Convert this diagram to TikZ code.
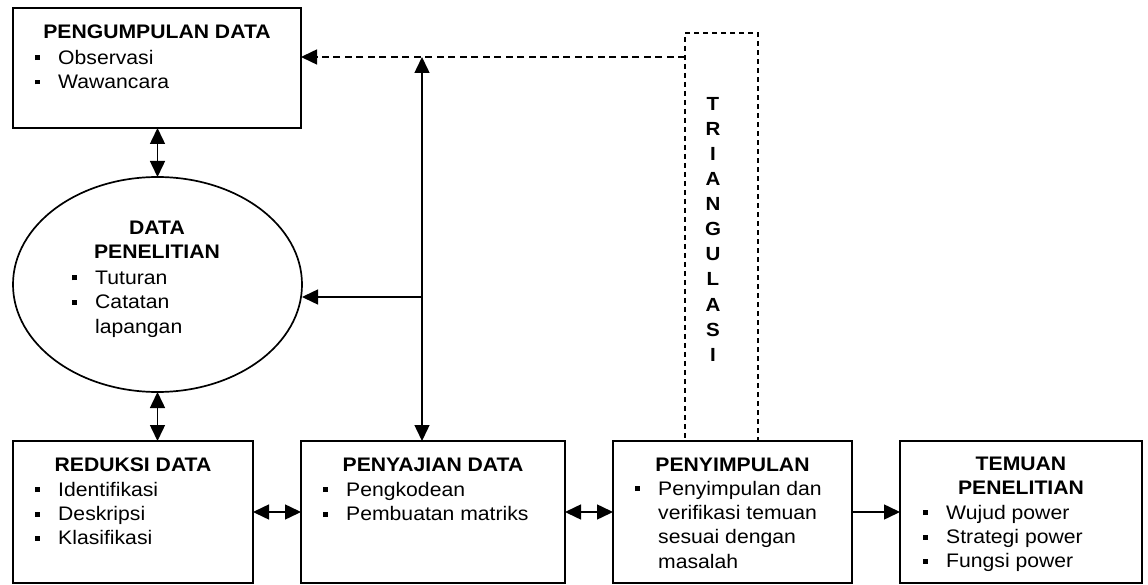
\documentclass[tikz,border=0pt]{standalone}
\usepackage{fontspec}
\setmainfont{Liberation Sans}[FakeStretch=1.08]
\usepackage{tikz}
\usetikzlibrary{shapes.geometric,arrows.meta,positioning,calc}
\newcommand{\blt}{\makebox[23pt][l]{\rule[4pt]{5pt}{5pt}}}

\begin{document}
\begin{tikzpicture}[
        x=1pt, y=-1pt,
        stage/.style={rectangle, draw, line width=1.7pt, fill=white, inner sep=0pt, outer sep=0pt, anchor=north west, minimum height=142pt},
        headtxt/.style={font=\fontsize{19.6}{23.5}\selectfont\bfseries, inner sep=0pt, align=center},
        listtxt/.style={font=\fontsize{19.6}{24.4}\selectfont, inner sep=0pt, align=left, anchor=north west},
        arrow/.style={-{Triangle[length=16pt,width=15pt]}, line width=1.5pt},
        twoway/.style={{Triangle[length=16pt,width=15pt]}-{Triangle[length=16pt,width=15pt]}, line width=1.5pt},
        dashbox/.style={rectangle, draw, line width=1.5pt, dash pattern=on 5pt off 4pt, inner sep=0pt, outer sep=0pt, anchor=north west}
    ]
        \path[use as bounding box, fill=white] (0,0) rectangle (1148,585);

        % Triangulasi
        \node[dashbox, minimum width=73pt, minimum height=408pt] (tri) at (685,33) {};
        \node[font=\fontsize{19}{25.1}\selectfont\bfseries, inner sep=0pt, align=center, anchor=north] (triT) at ($(tri.north)+(-8.5,64)$) {T\\R\\I\\A\\N\\G\\U\\L\\A\\S\\I};

        % Pengumpulan data
        \node[stage, minimum width=288pt, minimum height=120pt] (pgd) at (13,8) {};
        \node[headtxt, anchor=base] (pgdT) at ($(pgd.north)+(0,31)$) {PENGUMPULAN DATA};
        \node[listtxt] (pgdL) at ($(pgd.north west)+(22,41.7)$) {\blt Observasi\\\blt Wawancara};

        % Data penelitian
        \node[ellipse, draw, line width=1.7pt, inner sep=0pt, outer sep=0pt, minimum width=289pt, minimum height=215pt] (ell) at (157.5,284.5) {};
        \node[headtxt, anchor=north] (ellT) at (157,221) {DATA\\PENELITIAN};
        \node[listtxt] (ellL) at ($(ell.west)+(59,-13.8)$) {\blt Tuturan\\\blt Catatan\\\hspace*{23pt}lapangan};

        % Reduksi data
        \node[stage, minimum width=240pt] (red) at (13,441) {};
        \node[headtxt, anchor=base] (redT) at ($(red.north)+(0,30)$) {REDUKSI DATA};
        \node[listtxt] (redL) at ($(red.north west)+(22,40.7)$) {\blt Identifikasi\\\blt Deskripsi\\\blt Klasifikasi};

        % Penyajian data
        \node[stage, minimum width=264pt] (saji) at (301,441) {};
        \node[headtxt, anchor=base] (sajiT) at ($(saji.north)+(0,30)$) {PENYAJIAN DATA};
        \node[listtxt] (sajiL) at ($(saji.north west)+(22,40.7)$) {\blt Pengkodean\\\blt Pembuatan matriks};

        % Penyimpulan
        \node[stage, minimum width=239pt] (simp) at (613,441) {};
        \node[headtxt, anchor=base] (simpT) at ($(simp.north)+(0,30)$) {PENYIMPULAN};
        \node[listtxt] (simpL) at ($(simp.north west)+(22,39.7)$) {\blt Penyimpulan dan\\\hspace*{23pt}verifikasi temuan\\\hspace*{23pt}sesuai dengan\\\hspace*{23pt}masalah};

        % Temuan penelitian
        \node[stage, minimum width=242pt] (temu) at (900,441) {};
        \node[headtxt, anchor=north] (temuT) at ($(temu.north)+(0,16)$) {TEMUAN\\PENELITIAN};
        \node[listtxt] (temuL) at ($(temu.north west)+(23,63.7)$) {\blt Wujud power\\\blt Strategi power\\\blt Fungsi power};

        % Junctions
        \coordinate (upj) at (422,57);
        \coordinate (midj) at (422,297);

        % Arrows
        \draw[twoway] (ell.north |- pgd.south) -- (ell.north);
        \draw[twoway] (ell.south) -- (ell.south |- red.north);
        \draw[arrow, dash pattern=on 7pt off 4.5pt] (tri.west |- upj) -- (pgd.east |- upj);
        \draw[twoway] (upj |- saji.north) -- (upj);
        \draw[arrow] (midj) -- (midj -| ell.east);
        \draw[twoway] (red) -- (saji);
        \draw[twoway] (saji) -- (simp);
        \draw[arrow] (simp) -- (temu);
    \end{tikzpicture}
\end{document}
